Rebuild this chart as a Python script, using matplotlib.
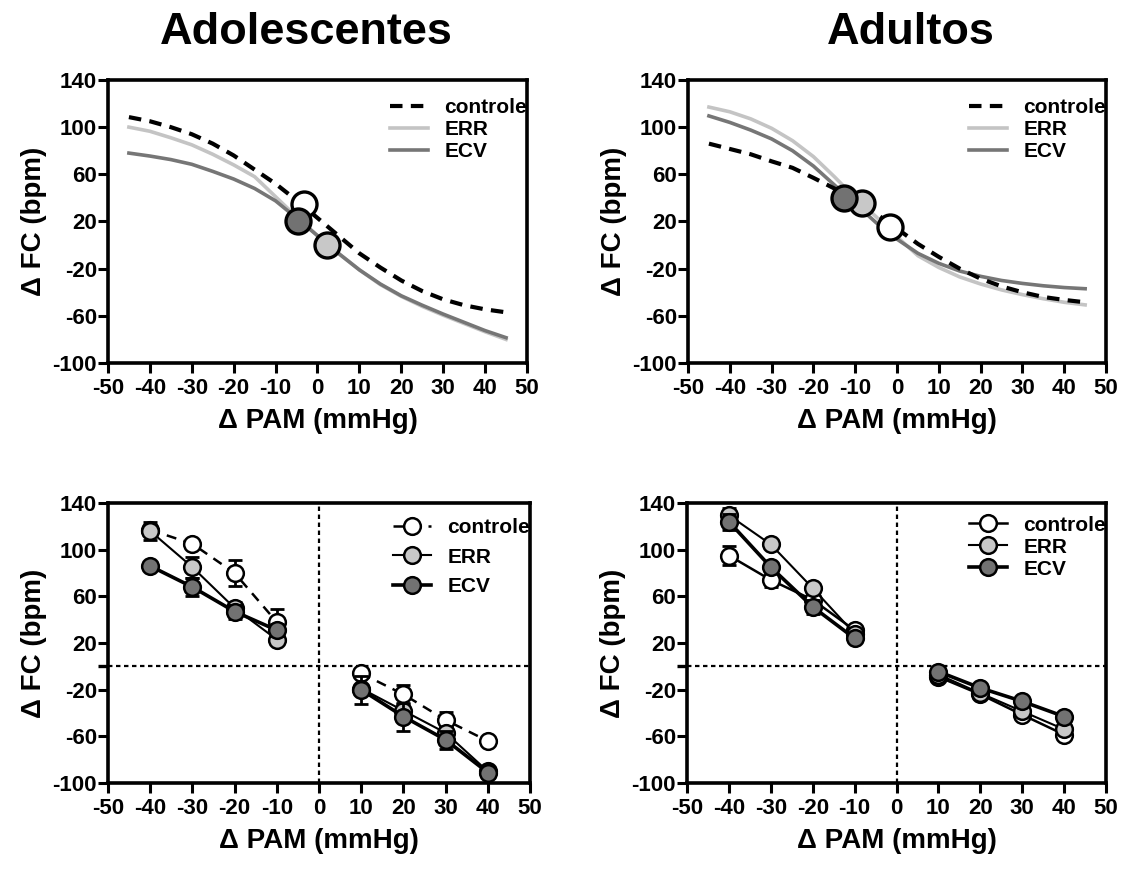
import matplotlib
matplotlib.use("Agg")
import matplotlib.pyplot as plt
from matplotlib.lines import Line2D

plt.rcParams["font.family"] = ["Liberation Sans", "DejaVu Sans"]
plt.rcParams["font.weight"] = "bold"
plt.rcParams["axes.unicode_minus"] = False

# Curvas sigmoides ajustadas (delta PAM a cada 5 mmHg)
PAM_CURVA = [-45, -40, -35, -30, -25, -20, -15, -10, -5, 0, 5, 10, 15, 20, 25, 30, 35, 40, 45]

ADOL_CONTROLE = [108.5, 105, 100, 94, 86, 76, 64, 52, 38, 23, 8, -7, -19, -30, -39, -46, -51, -54.5, -57]
ADOL_ERR = [100, 96.5, 91, 85, 77, 68, 58, 41, 24, 8, -7, -21, -33.5, -43.5, -52, -59.5, -66.5, -73.5, -80]
ADOL_ECV = [78, 75.5, 72.5, 68.5, 62.5, 56, 48, 37.5, 23, 8, -7, -21, -33, -43, -51, -58.5, -65.5, -72.5, -78.5]

ADUL_CONTROLE = [86, 81.5, 77, 71, 65.5, 57, 48, 37.5, 26.5, 14, 1, -10, -20, -28.5, -35, -40, -44, -46.5, -48.5]
ADUL_ERR = [117, 113, 107, 99, 88.5, 75, 58, 40, 24, 7, -9, -19, -27, -33, -38, -42, -45.5, -48.5, -50.7]
ADUL_ECV = [109.5, 104, 97.5, 90, 80, 67, 51, 35, 19, 5, -7, -15.5, -22, -26.5, -30, -32.5, -34.5, -36, -37]

# Ponto medio (BP50) de cada grupo: (delta PAM, delta FC)
ADOL_BP50 = {"controle": (-3.1, 35), "ERR": (2.3, 0.2), "ECV": (-4.7, 20)}
ADUL_BP50 = {"controle": (-1.7, 15.7), "ERR": (-8.4, 35.5), "ECV": (-12.8, 39.7)}

# Degraus de pressao (media e EPM)
PAM_DEGRAUS = [-40, -30, -20, -10, 10, 20, 30, 40]

ADOL_CTRL_FC = [117, 105, 80, 38, -6, -24, -46, -64]
ADOL_CTRL_EPM = [4, 0, 11, 11, 0, 8, 7, 0]
ADOL_ERR_FC = [116, 85, 50, 23, -19, -38, -57, -90]
ADOL_ERR_EPM = [8, 9, 5, 3, 3, 4, 5, 4]
ADOL_ECV_FC = [86, 68, 47, 31, -20, -43, -63, -91]
ADOL_ECV_EPM = [2, 8, 6, 5, 12, 12, 8, 5]

ADUL_CTRL_FC = [95, 74, 57, 31, -9, -24, -41.5, -58.5]
ADUL_CTRL_EPM = [8.5, 6, 0, 0, 0, 0, 0, 0]
ADUL_ERR_FC = [129.5, 104.5, 67, 28, -7, -23, -38.5, -54]
ADUL_ERR_EPM = [6, 0, 0, 0, 0, 0, 0, 0]
ADUL_ECV_FC = [124, 85, 51, 24, -4.5, -18.5, -30, -43]
ADUL_ECV_EPM = [7, 0, 6, 0, 0, 0, 0, 0]

COR_ERR_LINHA = "#c4c4c4"
COR_ECV_LINHA = "#767676"
COR_ERR = "#c8c8c8"
COR_ECV = "#727272"

XTICKS = [-50, -40, -30, -20, -10, 0, 10, 20, 30, 40, 50]
YTICKS = [-100, -60, -20, 20, 60, 100, 140]


def estilo_eixo(ax, zero_tick=False):
    ax.set_xlim(-50, 50)
    ax.set_ylim(-100, 140)
    ax.set_xticks(XTICKS)
    ax.set_yticks(YTICKS)
    if zero_tick:
        ax.set_yticks([0], minor=True)
        ax.tick_params(axis="y", which="minor", direction="out", length=7, width=2.4)
    for lado in ["top", "right", "left", "bottom"]:
        ax.spines[lado].set_linewidth(2.6)
    ax.tick_params(direction="out", length=7, width=2.2, labelsize=16)
    ax.tick_params(axis="x", pad=4)
    ax.tick_params(axis="y", pad=1)
    ax.set_xlabel("Δ PAM (mmHg)", fontsize=20, fontweight="bold", labelpad=6)
    ax.set_ylabel("Δ FC (bpm)", fontsize=20, fontweight="bold", labelpad=4)


def painel_curva(ax, controle, err, ecv, bp50):
    ax.plot(PAM_CURVA, err, color=COR_ERR_LINHA, lw=2.6, label="ERR", zorder=2)
    ax.plot(PAM_CURVA, ecv, color=COR_ECV_LINHA, lw=2.6, label="ECV", zorder=2)
    ax.plot(PAM_CURVA, controle, color="black", lw=3, dashes=(3, 2), label="controle", zorder=3)
    cores = {"controle": "white", "ERR": COR_ERR, "ECV": COR_ECV}
    for grupo in ["controle", "ERR", "ECV"]:
        x, y = bp50[grupo]
        ax.plot(x, y, "o", ms=18, mfc=cores[grupo], mec="black", mew=2.4, zorder=4)
    estilo_eixo(ax)
    h, l = ax.get_legend_handles_labels()
    ordem = [2, 0, 1]
    ax.legend([h[i] for i in ordem], [l[i] for i in ordem], loc="upper right",
              bbox_to_anchor=(1.03, 0.98), frameon=False, fontsize=15,
              handlelength=1.8, handletextpad=0.8, labelspacing=0.15, borderaxespad=0.2)


def serie_degraus(ax, fc, epm, face, lw, ls, z):
    for ini, fim in [(0, 4), (4, 8)]:
        xs = PAM_DEGRAUS[ini:fim]
        ys = fc[ini:fim]
        es = epm[ini:fim]
        ax.errorbar(xs, ys, yerr=es, fmt="none", ecolor="black", elinewidth=2,
                    capsize=5, capthick=2, zorder=z)
        ax.plot(xs, ys, color="black", lw=lw, linestyle=ls, marker="o", ms=12,
                mfc=face, mec="black", mew=1.8, zorder=z + 0.5)


def painel_degraus(ax, ctrl, err, ecv, ctrl_ls, ancora, espaco):
    ax.axhline(0, color="black", lw=1.6, linestyle=(0, (2, 1.6)), zorder=1)
    ax.axvline(0, color="black", lw=1.6, linestyle=(0, (2, 1.6)), zorder=1)
    serie_degraus(ax, ctrl[0], ctrl[1], "white", 1.8, ctrl_ls, 3)
    serie_degraus(ax, err[0], err[1], COR_ERR, 1.5, "-", 4)
    serie_degraus(ax, ecv[0], ecv[1], COR_ECV, 2.6, "-", 5)
    estilo_eixo(ax, zero_tick=True)
    handles = [
        Line2D([], [], color="black", lw=1.8, linestyle=ctrl_ls, marker="o", ms=12,
               mfc="white", mec="black", mew=1.8),
        Line2D([], [], color="black", lw=1.5, marker="o", ms=12, mfc=COR_ERR,
               mec="black", mew=1.8),
        Line2D([], [], color="black", lw=2.6, marker="o", ms=12, mfc=COR_ECV,
               mec="black", mew=1.8),
    ]
    ax.legend(handles, ["controle", "ERR", "ECV"], loc="upper right",
              bbox_to_anchor=ancora, frameon=False, fontsize=15,
              handlelength=1.8, handletextpad=0.8, labelspacing=espaco,
              borderaxespad=0.2)


fig = plt.figure(figsize=(11.27, 8.71), dpi=100)
ax_tl = fig.add_axes([0.0958, 0.5832, 0.3718, 0.3250])
ax_tr = fig.add_axes([0.6105, 0.5832, 0.3709, 0.3250])
ax_bl = fig.add_axes([0.0958, 0.1010, 0.3745, 0.3215])
ax_br = fig.add_axes([0.6096, 0.1010, 0.3718, 0.3215])

painel_curva(ax_tl, ADOL_CONTROLE, ADOL_ERR, ADOL_ECV, ADOL_BP50)
painel_curva(ax_tr, ADUL_CONTROLE, ADUL_ERR, ADUL_ECV, ADUL_BP50)

painel_degraus(ax_bl, (ADOL_CTRL_FC, ADOL_CTRL_EPM), (ADOL_ERR_FC, ADOL_ERR_EPM),
               (ADOL_ECV_FC, ADOL_ECV_EPM), (0, (4, 3)), (1.03, 0.99), 0.5)
painel_degraus(ax_br, (ADUL_CTRL_FC, ADUL_CTRL_EPM), (ADUL_ERR_FC, ADUL_ERR_EPM),
               (ADUL_ECV_FC, ADUL_ECV_EPM), "-", (1.03, 1.0), 0.15)

fig.text(0.272, 0.963, "Adolescentes", ha="center", va="center", fontsize=32.5, fontweight="bold")
fig.text(0.808, 0.963, "Adultos", ha="center", va="center", fontsize=32.5, fontweight="bold")

fig.savefig("out.png", dpi=100)
